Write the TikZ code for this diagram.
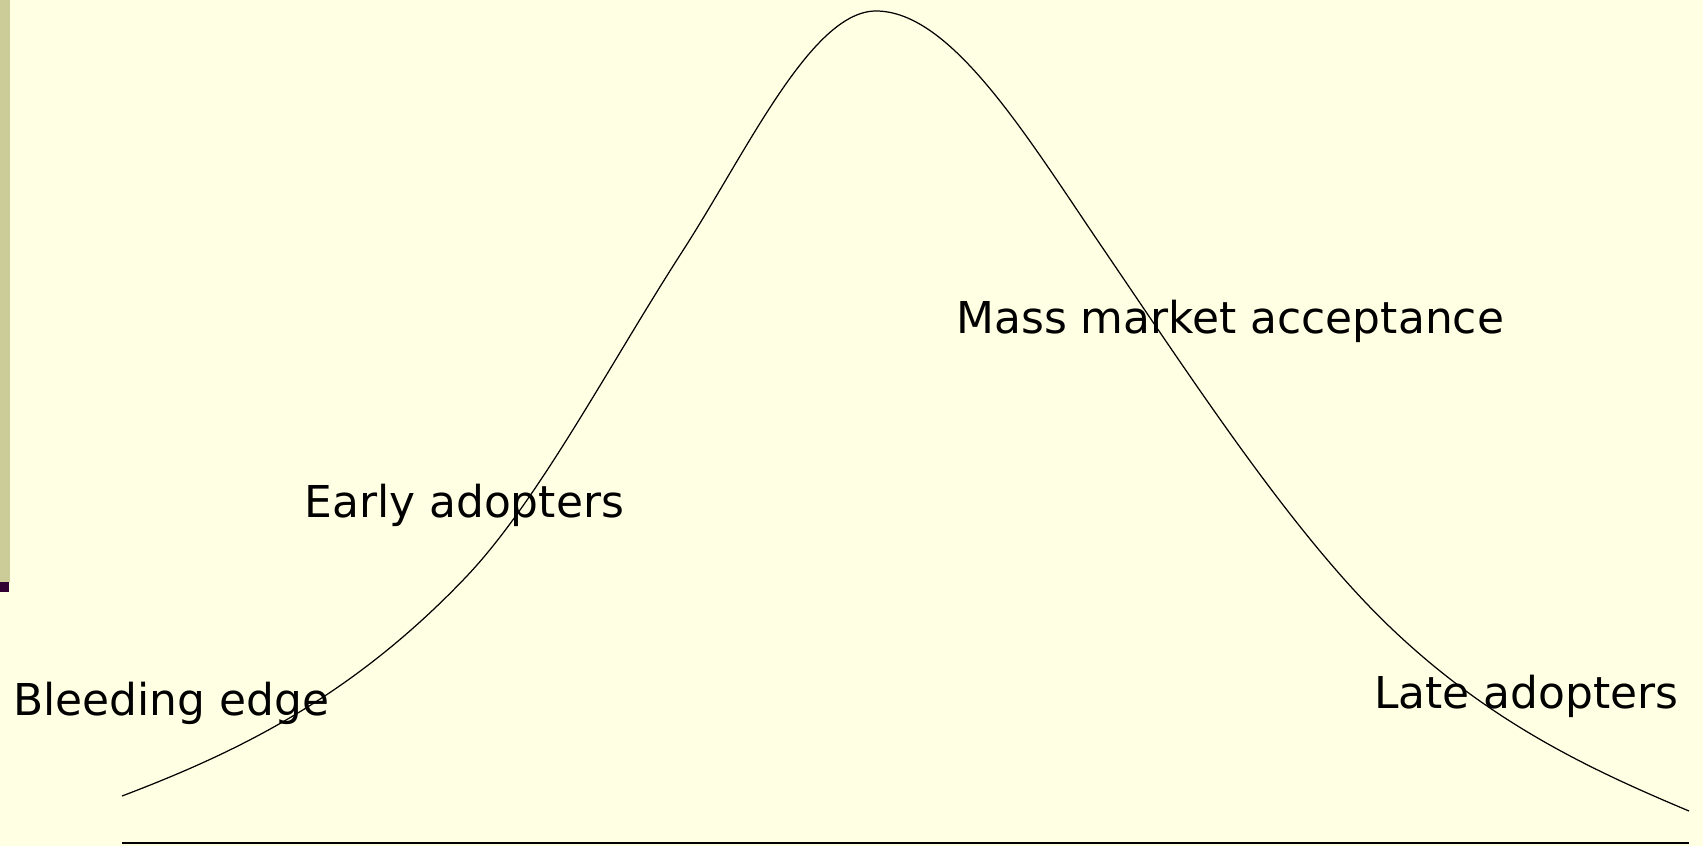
\documentclass[tikz,border=0pt]{standalone}
\usepackage{fontspec}
\usepackage{xcolor}
\usepackage{tikz}
\usetikzlibrary{positioning}
\newfontfamily\labelfont{DejaVu Sans}
\definecolor{slidebg}{HTML}{FFFFE3}
\definecolor{barc}{HTML}{CCCC99}
\definecolor{markc}{HTML}{330033}
\definecolor{inkOne}{HTML}{000000}
\tikzset{
  phase/.style={anchor=base west, inner sep=0pt, text=inkOne, font=\labelfont\fontsize{25}{30}\selectfont},
  bell/.style={draw=inkOne, line width=0.7pt, line join=round},
  axisline/.style={draw=inkOne, line width=0.9pt},
}
\begin{document}
\begin{tikzpicture}[x=0.02cm, y=-0.02cm]
  % ---- slide background and left bar
  \fill[slidebg] (0,0) rectangle (1703,846);
  \useasboundingbox (0,0) rectangle (1703,846);
  \fill[barc] (0,0) rectangle (10,582);
  \fill[markc] (0,582) rectangle (9,592);
  % ---- adoption curve and base line
  \draw[bell] (122,796) .. controls (236.7,752.4) and (351.3,697.4) .. (466,577)
    .. controls (538,501.4) and (610,363.6) .. (682,252)
    .. controls (746.7,151.8) and (811.3,11) .. (876,11)
    .. controls (951.3,11) and (1026.7,136.3) .. (1102,247)
    .. controls (1198.7,389.1) and (1295.3,537.1) .. (1392,629)
    .. controls (1491,723) and (1590,769.4) .. (1689,811);
  \coordinate (axl) at (122,843);
  \coordinate (axr) at (1689,843);
  \draw[axisline] (axl) -- (axr);
  % ---- phase labels
  \node[phase] (bleed) at (13,715) {Bleeding edge};
  \node[phase] (early) at (304,517) {Early adopters};
  \node[phase] (mass) at (956,333) {Mass market acceptance};
  \node[phase] (late) at (1374,708) {Late adopters};
\end{tikzpicture}
\end{document}
